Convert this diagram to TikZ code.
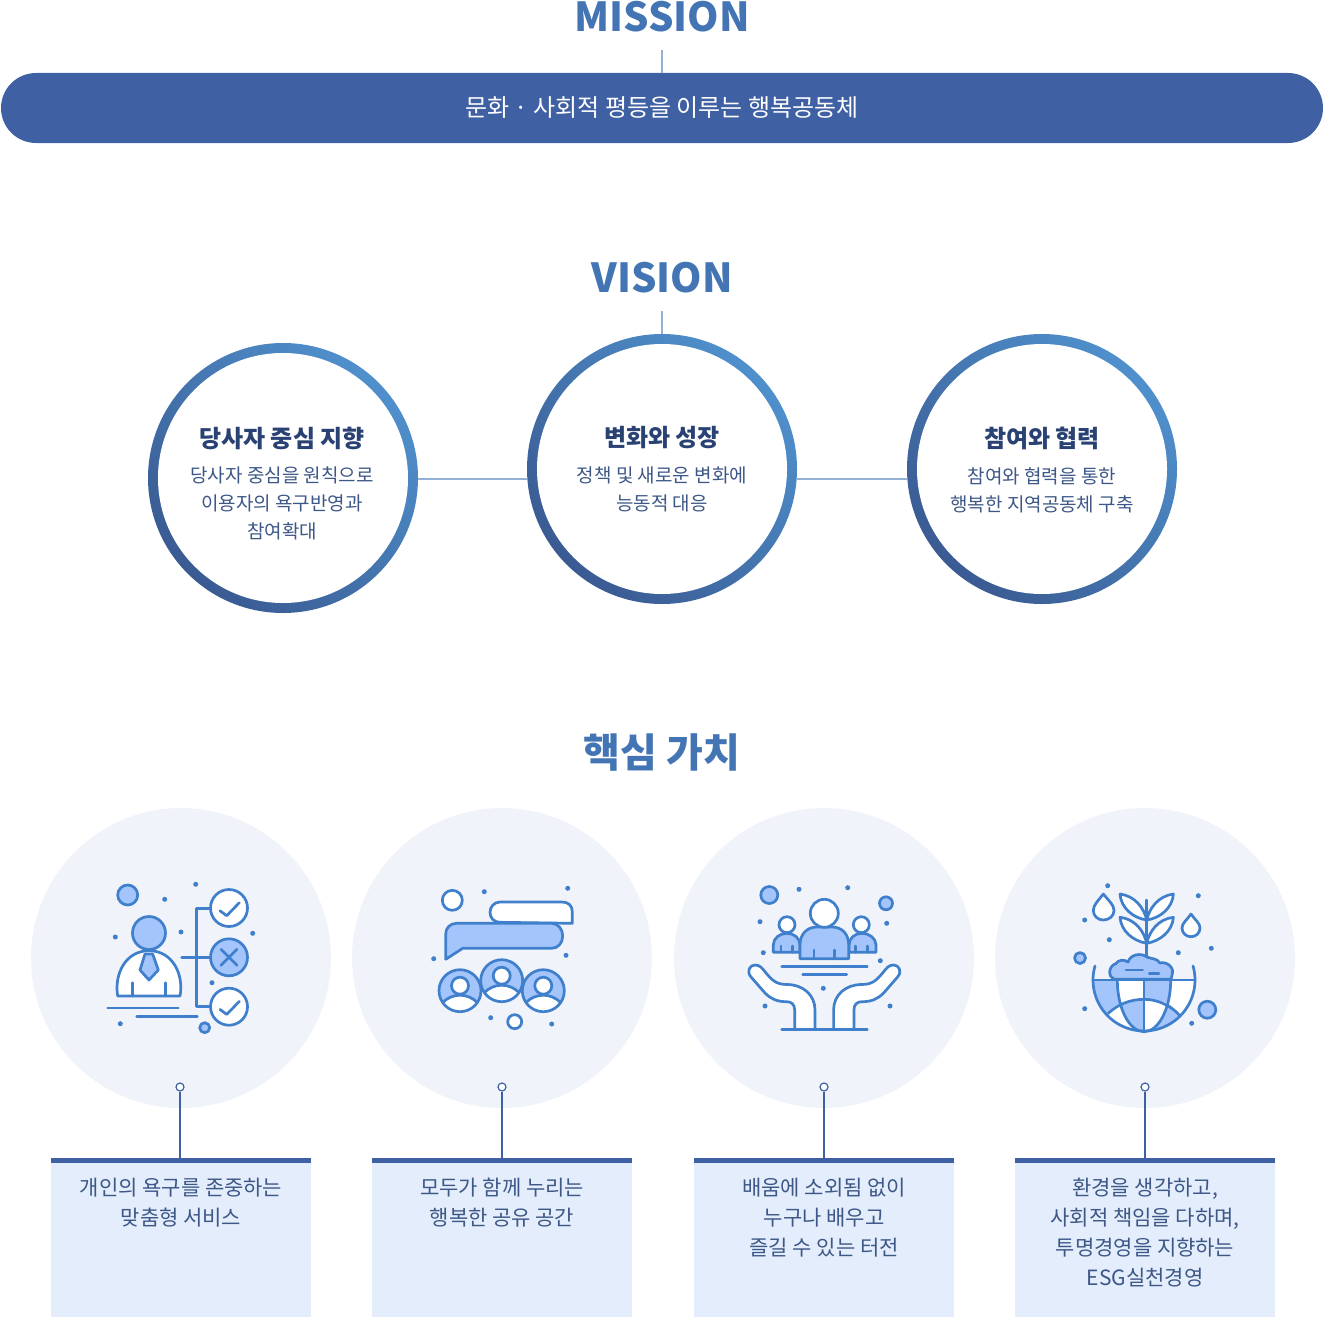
\documentclass[tikz,border=0pt]{standalone}
\usepackage{fontspec}
\setmainfont{Noto Sans CJK KR}
\definecolor{barblue}{HTML}{3F60A2}
\definecolor{headblue}{HTML}{4374B4}
\definecolor{stemblue}{HTML}{94B2D6}
\definecolor{ringlight}{HTML}{4F90CC}
\definecolor{ringdark}{HTML}{3A5A92}
\definecolor{navytext}{HTML}{2A4273}
\definecolor{subtext}{HTML}{3D5787}
\definecolor{discgrey}{HTML}{F0F3F9}
\definecolor{boxblue}{HTML}{E3EDFB}
\definecolor{icoblue}{HTML}{3F7FCB}
\definecolor{icolight}{HTML}{A3C5FB}
\tikzset{
	headline/.style = {font=\fontsize{40}{40}\selectfont\bfseries, text=headblue, inner sep=0pt},
	missionbar/.style = {fill=barblue, rounded corners=35pt, minimum width=1322pt, minimum height=70pt, inner sep=0pt, text=white, font=\fontsize{24}{24}\selectfont},
	ringouter/.style = {circle, minimum size=270pt, inner sep=0pt, shading=axis, left color=ringlight, right color=ringdark, shading angle=-45},
	ringinner/.style = {circle, fill=white, minimum size=250pt, inner sep=0pt},
	ringtitle/.style = {font=\fontsize{24}{24}\selectfont\bfseries, text=navytext, inner sep=0pt},
	ringtext/.style = {font=\fontsize{19}{28}\selectfont, text=subtext, align=center, inner sep=0pt, anchor=north},
	thinstem/.style = {draw=stemblue, line width=1.4pt},
	disc/.style = {circle, fill=discgrey, minimum size=300pt, inner sep=0pt},
	pinhole/.style = {circle, draw=barblue, fill=white, line width=1.2pt, minimum size=8pt, inner sep=0pt},
	pinline/.style = {draw=barblue, line width=1.6pt},
	valuebox/.style = {fill=boxblue, minimum width=260pt, minimum height=159pt, inner sep=0pt},
	boxtop/.style = {draw=barblue, line width=5pt},
	boxtext/.style = {font=\fontsize{21}{30}\selectfont, text=subtext, align=center, inner sep=0pt, anchor=north},
	icoline/.style = {draw=icoblue, line width=2.7pt, line cap=round, line join=round},
	icowhite/.style = {icoline, fill=white},
	icofill/.style = {icoline, fill=icolight}
}
\newcommand{\icodots}[1]{\foreach \p in {#1} \fill[icoblue] \p circle (2.5);}
\newcommand{\personbadge}[2]{
	\fill[icolight] (#1,#2) circle (21);
	\begin{scope}
		\clip (#1,#2) circle (21);
		\draw[icowhite] (#1,#2+28.5) circle (24);
	\end{scope}
	\draw[icoline] (#1,#2) circle (21);
	\draw[icowhite] (#1,#2-5) circle (8.5);
}
\begin{document}
\begin{tikzpicture}[x=1pt,y=-1pt]
	\useasboundingbox (0,0) rectangle (1324,1319);

	% mission
	\node[headline] (missionTitle) at (662,17) {MISSION};
	\coordinate (missionEnd) at (662,50);
	\node[missionbar] (missionBar) at (662,108) {문화 · 사회적 평등을 이루는 행복공동체};
	\draw[thinstem] (missionEnd) -- (missionBar.north);

	% vision
	\node[headline] (visionTitle) at (662,278) {VISION};
	\coordinate (visionEnd) at (662,311);
	\node[ringouter] (ringA) at (283,478) {};
	\node[ringouter] (ringB) at (662,469) {};
	\node[ringouter] (ringC) at (1042,469) {};
	\node[ringinner] (holeA) at (ringA) {};
	\node[ringinner] (holeB) at (ringB) {};
	\node[ringinner] (holeC) at (ringC) {};
	\draw[thinstem] (visionEnd) -- (ringB.north);
	\draw[thinstem] ([yshift=-1pt]ringA.east) -- ([yshift=-1pt]ringA.east -| ringB.west);
	\draw[thinstem] ([yshift=-1pt]ringA.east -| ringB.east) -- ([yshift=-1pt]ringA.east -| ringC.west);
	\node[ringtitle] (ringTitleA) at (282,438) {당사자 중심 지향};
	\node[ringtitle] (ringTitleB) at (662,438) {변화와 성장};
	\node[ringtitle] (ringTitleC) at (1042,438) {참여와 협력};
	\node[ringtext] (ringTextA) at (282,467) {당사자 중심을 원칙으로\\이용자의 욕구반영과\\참여확대};
	\node[ringtext] (ringTextB) at (662,467) {정책 및 새로운 변화에\\능동적 대응};
	\node[ringtext] (ringTextC) at (1042,467) {참여와 협력을 통한\\행복한 지역공동체 구축};

	% values
	\node[headline] (valueTitle) at (662,752) {핵심 가치};
	\node[disc] (discA) at (181,958) {};
	\node[disc] (discB) at (502,958) {};
	\node[disc] (discC) at (824,958) {};
	\node[disc] (discD) at (1145,958) {};
	\node[valuebox] (boxA) at (181,1237.5) {};
	\node[valuebox] (boxB) at (502,1237.5) {};
	\node[valuebox] (boxC) at (824,1237.5) {};
	\node[valuebox] (boxD) at (1145,1237.5) {};
	\node[pinhole] (pinA) at (180,1087) {};
	\node[pinhole] (pinB) at (502,1087) {};
	\node[pinhole] (pinC) at (824,1087) {};
	\node[pinhole] (pinD) at (1145,1087) {};
	\draw[pinline] (pinA) -- (pinA |- boxA.north);
	\draw[pinline] (pinB) -- (pinB |- boxB.north);
	\draw[pinline] (pinC) -- (pinC |- boxC.north);
	\draw[pinline] (pinD) -- (pinD |- boxD.north);
	\foreach \b in {boxA,boxB,boxC,boxD}
		\draw[boxtop] ([yshift=-2.5pt]\b.north west) -- ([yshift=-2.5pt]\b.north east);
	\node[boxtext] (boxTextA) at (181,1178) {개인의 욕구를 존중하는\\맞춤형 서비스};
	\node[boxtext] (boxTextB) at (502,1178) {모두가 함께 누리는\\행복한 공유 공간};
	\node[boxtext] (boxTextC) at (824,1178) {배움에 소외됨 없이\\누구나 배우고\\즐길 수 있는 터전};
	\node[boxtext] (boxTextD) at (1145,1178) {환경을 생각하고,\\사회적 책임을 다하며,\\투명경영을 지향하는\\ESG실천경영};

	% icon person
	\icodots{(195.7,884.3),(164.7,899.3),(115.3,937),(181,932),(252.7,933.3),(212,982.7),(120.3,1023.7)}
	\draw[icofill] (127.7,895) circle (10);
	\draw[icowhite] (117.7,996) .. controls (114,975) and (125,950.7) .. (149,950.7) .. controls (173,950.7) and (184,975) .. (180,996) -- cycle;
	\draw[icofill] (149,933) circle (16.5);
	\draw[icofill] (145,954) -- (152.7,954) -- (158.3,970) -- (149,980) -- (140,970) -- cycle;
	\draw[icoline] (132.7,982.7) -- (132.7,996);
	\draw[icoline] (165.3,982.7) -- (165.3,996);
	\draw[icoline] (107.7,1008) -- (178.3,1008);
	\draw[icoline] (136.7,1016.3) -- (197.3,1016.3);
	\draw[icofill] (204.7,1027.7) circle (5);
	\draw[icoline] (181.7,957.3) -- (210,957.3);
	\draw[icoline] (210,908.3) -- (196.7,908.3) -- (196.7,1006.7) -- (210,1006.7);
	\draw[icowhite] (229,908) circle (18.5);
	\draw[icofill] (229,957.3) circle (18.5);
	\draw[icowhite] (229,1006.7) circle (18.5);
	\draw[icoline] (220,910.7) -- (226.7,915.7) -- (239.3,902.7);
	\draw[icoline] (220,1009.4) -- (226.7,1014.4) -- (239.3,1001.4);
	\draw[icoline] (221,949.3) -- (237,965.3);
	\draw[icoline] (237,949.3) -- (221,965.3);

	% icon talk
	\icodots{(484.3,891.7),(567.7,888.3),(433.7,958.7),(566,955.3),(490.7,1017.7),(551.7,1024)}
	\draw[icowhite] (452.3,900.3) circle (10);
	\draw[icowhite] (514.7,1021.7) circle (7);
	\draw[icowhite] (572.3,923.3) -- (572.3,912) .. controls (572.3,905) and (568,902) .. (561.7,902) -- (500,902) .. controls (494,902) and (490,907) .. (490,912.3) .. controls (490,918) and (494,922.3) .. (500,922.3) -- cycle;
	\draw[icofill] (445.7,959.3) -- (445.7,934) .. controls (445.7,928) and (450,923.3) .. (456.7,923.3) -- (551.7,923.3) .. controls (558,923.3) and (562.7,929) .. (562.7,936) .. controls (562.7,943) and (558,948.3) .. (551.7,948.3) -- (462.7,948.3) -- cycle;
	\personbadge{460}{990.7}
	\personbadge{543.3}{990.7}
	\personbadge{501.7}{980.7}

	% icon hands
	\icodots{(799,889.3),(847.7,887.7),(760,921.7),(886.7,923.3),(763.3,952.7),(880.3,960.7),(823.3,988.3),(765,1006),(890,1006)}
	\draw[icofill] (769.3,895) circle (8.5);
	\draw[icofill] (886,903.3) circle (6.5);
	\draw[icofill] (773.3,952.3) -- (773.3,945) .. controls (773.3,938) and (780,933.3) .. (786.7,933.3) .. controls (794,933.3) and (800,938) .. (800,945) -- (800,952.3) -- cycle;
	\draw[icofill] (849,952.3) -- (849,945) .. controls (849,938) and (855,933.3) .. (862,933.3) .. controls (869,933.3) and (876,938) .. (876,945) -- (876,952.3) -- cycle;
	\draw[icowhite] (787,924.7) circle (8);
	\draw[icowhite] (861.3,924.7) circle (8);
	\draw[icofill] (800,958.7) -- (800,945) .. controls (800,934) and (807,927) .. (817,927) -- (832,927) .. controls (842,927) and (848.7,934) .. (848.7,945) -- (848.7,958.7) -- cycle;
	\draw[icowhite] (824.3,913.3) circle (14);
	\draw[icoline] (781,946) -- (781,952.3);
	\draw[icoline] (792.3,946) -- (792.3,952.3);
	\draw[icoline] (855.3,946) -- (855.3,952.3);
	\draw[icoline] (867.3,946) -- (867.3,952.3);
	\draw[icoline] (814,950) -- (814,958.7);
	\draw[icoline] (834.3,950) -- (834.3,958.7);
	\draw[icoline] (781.7,966.7) -- (867.3,966.7);
	\draw[icoline] (802.7,974.7) -- (846.7,974.7);
	\draw[icowhite] (794.7,1029.7) -- (794.7,1010) .. controls (794.7,1004) and (791,1001.7) .. (786.7,1001.7) .. controls (777,1001.7) and (771,999) .. (765,993) -- (751,977) .. controls (746,971) and (750,965) .. (755,965) .. controls (760,965) and (762,968) .. (766,973) .. controls (772,980) and (776,984.5) .. (787,984.5) .. controls (803,984.5) and (815,995) .. (815,1010) -- (815,1029.7);
	\draw[icowhite] (853.9,1029.7) -- (853.9,1010) .. controls (853.9,1004) and (857.6,1001.7) .. (861.9,1001.7) .. controls (871.6,1001.7) and (877.6,999) .. (883.6,993) -- (897.6,977) .. controls (902.6,971) and (898.6,965) .. (893.6,965) .. controls (888.6,965) and (886.6,968) .. (882.6,973) .. controls (876.6,980) and (872.6,984.5) .. (861.6,984.5) .. controls (845.6,984.5) and (833.6,995) .. (833.6,1010) -- (833.6,1029.7);
	\draw[icoline] (781.7,1029.7) -- (867.3,1029.7);

	% icon globe
	\icodots{(1107.7,885.7),(1198.3,895.7),(1084.7,920),(1109.3,939.7),(1178.3,952.7),(1211.3,948.3),(1084.7,1008.7),(1191.7,1023.3)}
	\draw[icofill] (1080,958) circle (5.5);
	\draw[icofill] (1207.3,1009.7) circle (8.5);
	\draw[icowhite] (1103.3,894) .. controls (1098,901) and (1093.3,905) .. (1093.3,910.5) .. controls (1093.3,916) and (1098,920) .. (1103.3,920) .. controls (1109,920) and (1114,916) .. (1114,910.5) .. controls (1114,905) and (1109,901) .. cycle;
	\draw[icowhite] (1191,914) .. controls (1187,920) and (1182,923) .. (1182,928) .. controls (1182,933) and (1186,936.7) .. (1191,936.7) .. controls (1196,936.7) and (1200,933) .. (1200,928) .. controls (1200,923) and (1195,920) .. cycle;
	\fill[white] plot[domain=0:180,samples=40] ({1144+51*cos(\x)},{980+51*sin(\x)}) -- cycle;
	\begin{scope}
		\clip plot[domain=0:180,samples=40] ({1144+51*cos(\x)},{980+51*sin(\x)}) -- cycle;
		\fill[icolight] (1085,980) -- (1117.3,980) .. controls (1117.3,990) and (1118,997) .. (1120.4,1003.3) .. controls (1114,1006) and (1110,1009) .. (1108,1013.3) -- (1085,1013.3) -- cycle;
		\fill[icolight] (1144,980) -- (1170.7,980) .. controls (1170.7,990) and (1170,997) .. (1167.6,1003.3) .. controls (1160,1000.5) and (1152,999.3) .. (1144,999.3) -- cycle;
		\fill[icolight] (1120.4,1003.3) .. controls (1128,1000.5) and (1136,999.3) .. (1144,999.3) -- (1144,1032) .. controls (1133,1031) and (1125,1017) .. cycle;
		\fill[icolight] (1167.6,1003.3) .. controls (1172,1006) and (1176,1010) .. (1179.3,1015) -- (1200,1040) -- (1144,1040) -- (1144,1031.7) .. controls (1155,1031) and (1163,1017) .. cycle;
	\end{scope}
	\draw[icoline] (1117.3,980) .. controls (1117.3,1008.2) and (1129.3,1031.7) .. (1144,1031.7) .. controls (1158.7,1031.7) and (1170.7,1008.2) .. (1170.7,980);
	\draw[icoline] (1144,980) -- (1144,1031.7);
	\draw[icoline] (1108.3,1013.3) .. controls (1118,1004) and (1131,999.3) .. (1144,999.3) .. controls (1157,999.3) and (1170,1005) .. (1179.3,1015);
	\draw[icoline] (1093,980) -- (1195,980);
	\draw[icoline] plot[domain=-16:196,samples=50] ({1144+51*cos(\x)},{980+51*sin(\x)});
	\draw[icoline] (1146.7,900) -- (1146.7,961.7);
	\draw[icowhite] (1120,894) .. controls (1135,896) and (1144,908) .. (1146.7,920) .. controls (1133,918) and (1121,908) .. cycle;
	\draw[icowhite] (1120,917.3) .. controls (1135,919) and (1144,931) .. (1146.7,943.3) .. controls (1133,941) and (1121,931) .. cycle;
	\draw[icowhite] (1173.4,894) .. controls (1158.4,896) and (1149.4,908) .. (1146.7,920) .. controls (1160.4,918) and (1172.4,908) .. cycle;
	\draw[icowhite] (1173.4,917.3) .. controls (1158.4,919) and (1149.4,931) .. (1146.7,943.3) .. controls (1160.4,941) and (1172.4,931) .. cycle;
	\draw[icofill] (1114,979.3) .. controls (1108,977) and (1108,966) .. (1116,963.5) .. controls (1118,960) and (1124,959) .. (1128,962) .. controls (1130,955) and (1140,952) .. (1147,957) .. controls (1151,959) and (1157,958) .. (1160,963) .. controls (1167,961) and (1175,968) .. (1172,975) .. controls (1172,977) and (1171,979.3) .. (1170,979.3) -- cycle;
	\draw[icoline] (1126,970) -- (1142.7,970);
	\draw[icoline] (1149.3,973.7) -- (1159,973.7);
\end{tikzpicture}
\end{document}
